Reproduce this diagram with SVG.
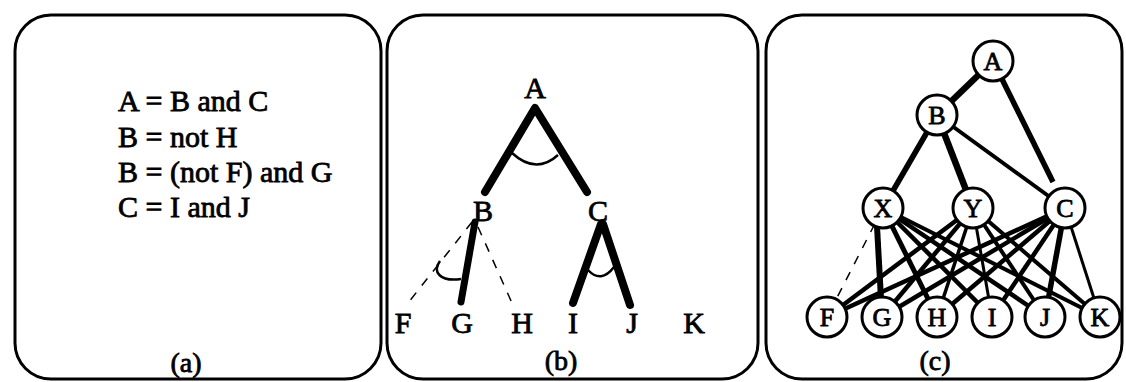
<svg xmlns="http://www.w3.org/2000/svg" width="1126" height="382" viewBox="0 0 1126 382">
<style>
.panel{fill:none;stroke:#000;stroke-width:3}
.t{font-family:"Liberation Serif","Times New Roman",serif;fill:#000;stroke:#000;stroke-width:0.8}
.eq{font-size:30px}
.lb{font-size:30px;text-anchor:middle}
.cap{font-size:28px;text-anchor:middle}
.nl{font-size:26px;text-anchor:middle}
.thick{stroke:#000;stroke-width:8;stroke-linecap:round;fill:none}
.arc{stroke:#000;stroke-width:2.5;fill:none}
.dash{stroke:#000;stroke-width:1.5;stroke-dasharray:9 9;fill:none}
.node circle{fill:#fff;stroke:#000;stroke-width:3}
.e{stroke:#000;fill:none}
</style>
<rect width="1126" height="382" fill="#fff"/>
<!-- Panel (a) -->
<g id="panel-a">
<rect class="panel" x="15" y="15" width="366" height="364" rx="36" ry="36"/>
<text class="t eq" x="118" y="111">A = B and C</text>
<text class="t eq" x="118" y="147">B = not H</text>
<text class="t eq" x="118" y="182">B = (not F) and G</text>
<text class="t eq" x="118" y="217">C = I and J</text>
<text class="t cap" x="186" y="372">(a)</text>
</g>
<!-- Panel (b) -->
<g id="panel-b">
<rect class="panel" x="387" y="15" width="371" height="364" rx="36" ry="36"/>
<text class="t cap" x="561" y="370">(b)</text>
</g>
<g id="b-connectors">
<polyline class="thick" points="485,192 535,108 587,192" stroke-linejoin="round"/>
<path class="arc" d="M512,153 Q536,175 558,155"/>
<line class="thick" x1="475" y1="222" x2="461" y2="302" style="stroke-width:7"/>
<line class="dash" x1="472" y1="222" x2="408" y2="303"/>
<line class="dash" x1="478" y1="227" x2="512" y2="303"/>
<path class="arc" d="M440,261 C432,272 440,282 461,279"/>
<line class="thick" x1="601" y1="224" x2="573" y2="303"/>
<line class="thick" x1="603" y1="224" x2="630" y2="305"/>
<path class="arc" d="M588,270 Q601,284 614,267"/>
</g>
<g id="b-A"><text class="t lb" x="535" y="98">A</text></g>
<g id="b-B"><text class="t lb" x="483" y="221">B</text></g>
<g id="b-C"><text class="t lb" x="598" y="221">C</text></g>
<g id="b-F"><text class="t lb" x="403" y="333">F</text></g>
<g id="b-G"><text class="t lb" x="462" y="333">G</text></g>
<g id="b-H"><text class="t lb" x="522" y="333">H</text></g>
<g id="b-I"><text class="t lb" x="573" y="333">I</text></g>
<g id="b-J"><text class="t lb" x="632" y="333">J</text></g>
<g id="b-K"><text class="t lb" x="694" y="333">K</text></g>
<!-- Panel (c) -->
<g id="panel-c">
<rect class="panel" x="766" y="15" width="356" height="364" rx="36" ry="36"/>
<text class="t cap" x="935" y="370">(c)</text>
</g>
<g id="c-connectors">
<line class="e" x1="993" y1="61" x2="937" y2="115" stroke-width="6.5"/>
<line class="e" x1="993" y1="61" x2="1053" y2="182" stroke-width="5.5"/>
<line class="e" x1="937" y1="115" x2="883" y2="208" stroke-width="5.5"/>
<line class="e" x1="937" y1="115" x2="973" y2="208" stroke-width="6.5"/>
<line class="e" x1="937" y1="115" x2="1065" y2="208" stroke-width="4"/>
<line class="dash" x1="883" y1="208" x2="827" y2="317"/>
<line class="e" x1="876" y1="208" x2="882" y2="317" stroke-width="6"/>
<line class="e" x1="883" y1="208" x2="937" y2="317" stroke-width="5"/>
<line class="e" x1="883" y1="208" x2="992" y2="317" stroke-width="4.5"/>
<line class="e" x1="883" y1="208" x2="1045" y2="317" stroke-width="4.5"/>
<line class="e" x1="883" y1="208" x2="1100" y2="317" stroke-width="4"/>
<line class="e" x1="973" y1="208" x2="827" y2="317" stroke-width="4.5"/>
<line class="e" x1="973" y1="208" x2="882" y2="317" stroke-width="4.5"/>
<line class="e" x1="973" y1="208" x2="937" y2="317" stroke-width="3.5"/>
<line class="e" x1="973" y1="208" x2="992" y2="317" stroke-width="3"/>
<line class="e" x1="973" y1="208" x2="1045" y2="317" stroke-width="4"/>
<line class="e" x1="973" y1="208" x2="1100" y2="317" stroke-width="4"/>
<line class="e" x1="1065" y1="208" x2="827" y2="317" stroke-width="4.5"/>
<line class="e" x1="1065" y1="208" x2="882" y2="317" stroke-width="4.5"/>
<line class="e" x1="1065" y1="208" x2="937" y2="317" stroke-width="4.5"/>
<line class="e" x1="1065" y1="208" x2="992" y2="317" stroke-width="4.5"/>
<line class="e" x1="1065" y1="208" x2="1045" y2="317" stroke-width="5.5"/>
<line class="e" x1="1065" y1="208" x2="1100" y2="317" stroke-width="3"/>
</g>
<g id="c-A" class="node"><circle cx="993" cy="61" r="20"/><text class="t nl" x="993" y="70">A</text></g>
<g id="c-B" class="node"><circle cx="937" cy="115" r="20"/><text class="t nl" x="937" y="124">B</text></g>
<g id="c-X" class="node"><circle cx="883" cy="208" r="20"/><text class="t nl" x="883" y="217">X</text></g>
<g id="c-Y" class="node"><circle cx="973" cy="208" r="20"/><text class="t nl" x="973" y="217">Y</text></g>
<g id="c-C" class="node"><circle cx="1065" cy="208" r="20"/><text class="t nl" x="1065" y="217">C</text></g>
<g id="c-F" class="node"><circle cx="827" cy="317" r="20"/><text class="t nl" x="827" y="326">F</text></g>
<g id="c-G" class="node"><circle cx="882" cy="317" r="20"/><text class="t nl" x="882" y="326">G</text></g>
<g id="c-H" class="node"><circle cx="937" cy="317" r="20"/><text class="t nl" x="937" y="326">H</text></g>
<g id="c-I" class="node"><circle cx="992" cy="317" r="20"/><text class="t nl" x="992" y="326">I</text></g>
<g id="c-J" class="node"><circle cx="1045" cy="317" r="20"/><text class="t nl" x="1045" y="326">J</text></g>
<g id="c-K" class="node"><circle cx="1100" cy="317" r="20"/><text class="t nl" x="1100" y="326">K</text></g>
</svg>
